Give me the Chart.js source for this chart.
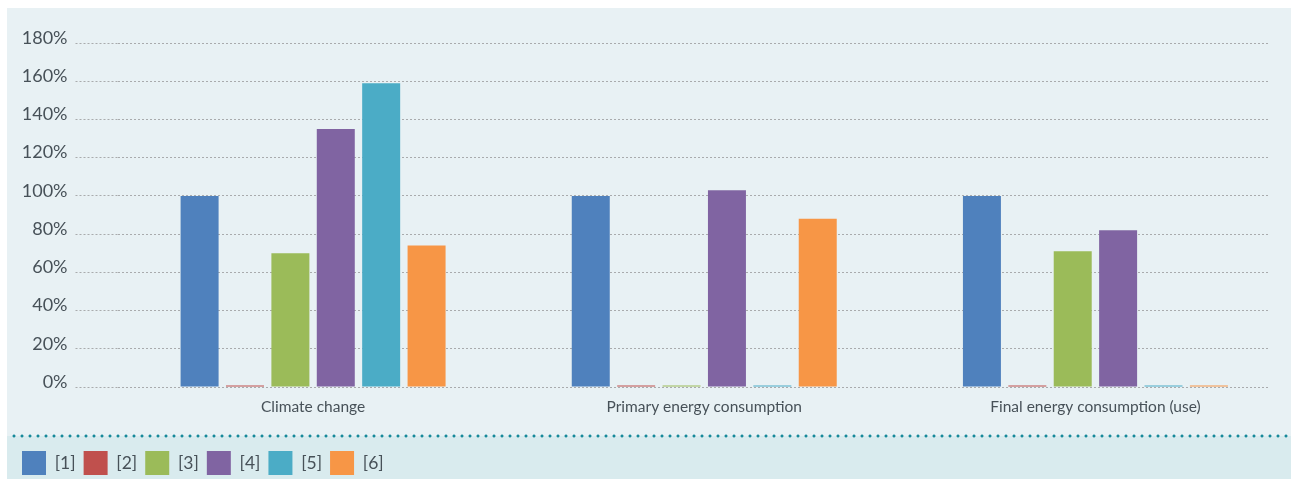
<!DOCTYPE html>
<html><head><meta charset="utf-8">
<script src="https://cdn.jsdelivr.net/npm/chart.js@4/dist/chart.umd.min.js"></script>
<style>
html,body{margin:0;padding:0;width:1291px;height:479px;overflow:hidden;background:#ffffff;}
#panel{position:absolute;left:7px;top:8px;width:1284px;height:471px;
  background:linear-gradient(to bottom,#e8f1f4 0,#e8f1f4 428px,#d9ebee 428px,#d9ebee 100%);}
#sep{position:absolute;left:10px;top:434px;width:1281px;height:4px;
  background-image:radial-gradient(circle at 4px 2px,#17899a 0,#17899a 1.2px,rgba(23,137,154,0) 1.8px);
  background-size:8px 4px;background-repeat:repeat-x;}
#wrap{position:absolute;left:0;top:0;}
</style>
</head><body>
<div id="panel"></div>
<div id="sep"></div>
<div id="wrap"><canvas id="c" width="1291" height="485" style="width:1291px;height:485px"></canvas></div>
<script>
const categories = ['Climate change', 'Primary energy consumption', 'Final energy consumption (use)'];
const seriesLabels = ['[1]', '[2]', '[3]', '[4]', '[5]', '[6]'];
const series1 = [100, 100, 100];
const series2 = [0.8, 0.8, 0.8];
const series3 = [70, 0.8, 71];
const series4 = [135, 103, 82];
const series5 = [159, 0.8, 0.8];
const series6 = [74, 88, 0.8];
const yMin = 0, yMax = 180, yStep = 20;

const colors = ['#4f81bd', '#c0504d', '#9bbb59', '#8064a2', '#4bacc6', '#f79646'];
const values = [series1, series2, series3, series4, series5, series6];
const textColor = '#475158';
const fontFamily = 'Lato';

const clipGrid = {
  id: 'clipGrid',
  beforeDraw(chart) {
    const c = chart.ctx; c.save(); c.beginPath();
    c.rect(0, 0, chart.width - 21, chart.height); c.clip();
  },
  beforeDatasetsDraw(chart) { chart.ctx.restore(); }
};

new Chart(document.getElementById('c'), {
  type: 'bar',
  data: {
    labels: categories,
    datasets: values.map((v, i) => ({
      label: seriesLabels[i],
      data: v,
      backgroundColor: colors[i],
      borderWidth: 0,
      categoryPercentage: 0.6963,
      barPercentage: 0.837
    }))
  },
  options: {
    responsive: false,
    animation: false,
    layout: { padding: { left: 14, top: 43, right: 0, bottom: 0 } },
    plugins: {
      tooltip: { enabled: false },
      legend: {
        position: 'bottom',
        align: 'start',
        labels: {
          boxWidth: 24, boxHeight: 24, padding: 8,
          color: textColor,
          font: { family: fontFamily, size: 17.5 }
        }
      }
    },
    scales: {
      x: {
        grid: { display: false, drawTicks: false },
        border: { display: false },
        ticks: { color: textColor, font: { family: fontFamily, size: 15.5 }, padding: 11, maxRotation: 0 },
        afterFit(scale) { scale.height = 56; }
      },
      y: {
        min: yMin, max: yMax,
        grid: {
          color: '#a9abad', lineWidth: 1,
          drawTicks: true, tickLength: 42, tickColor: '#a9abad', tickBorderDash: [2, 2], tickWidth: 1
        },
        border: { display: false, dash: [2, 2] },
        ticks: {
          stepSize: yStep, padding: 8, labelOffset: -5,
          color: textColor, font: { family: fontFamily, size: 18 },
          callback: v => v + '%'
        },
        afterFit(scale) { scale.width = 103.5; }
      }
    }
  },
  plugins: [clipGrid]
});
</script>
</body></html>
